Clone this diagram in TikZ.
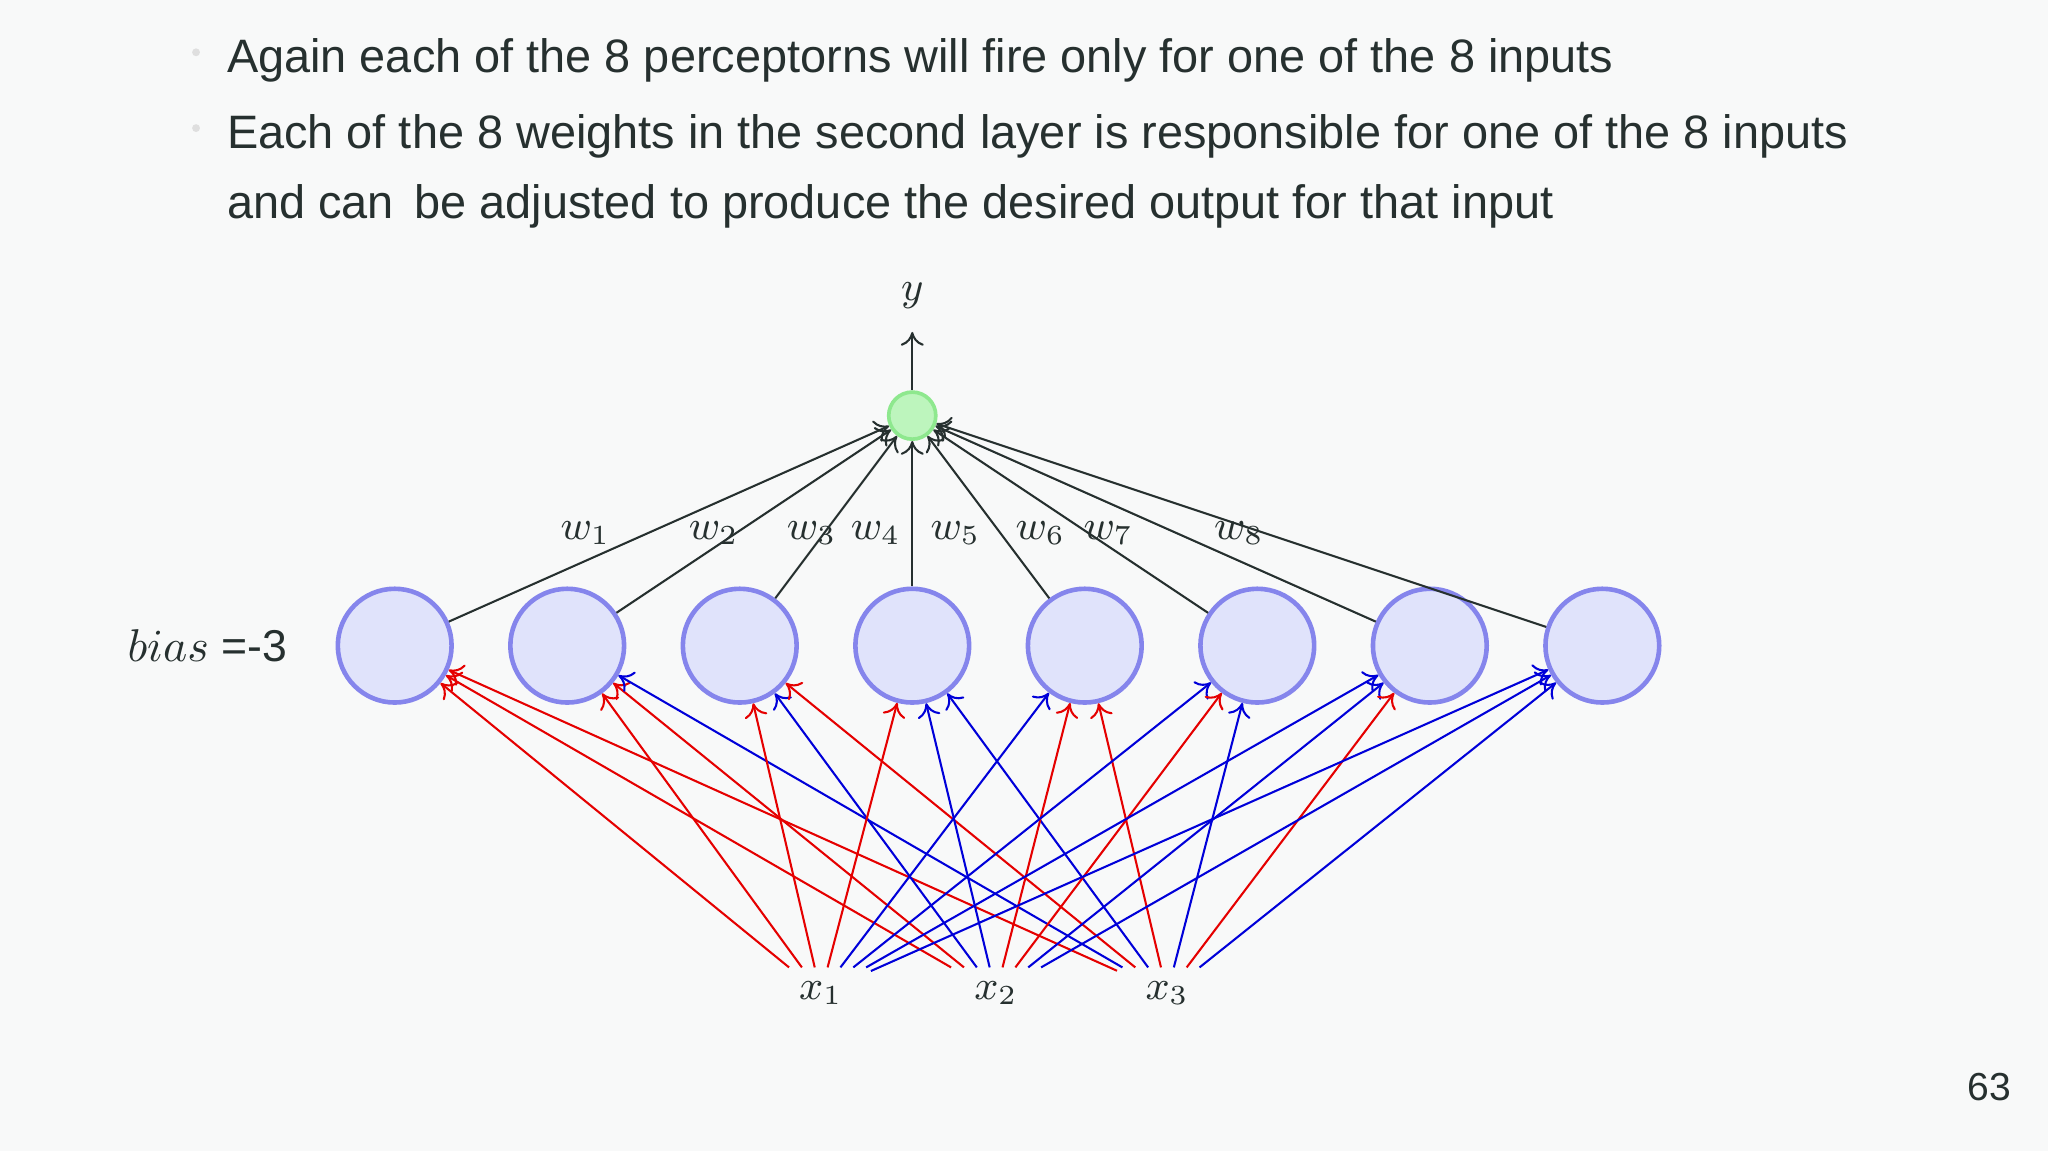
\documentclass[tikz,border=0pt]{standalone}
\usepackage{fontspec}
\setmainfont{Liberation Sans}
\usetikzlibrary{arrows.meta}
\definecolor{bg}{HTML}{F8F9F9}
\definecolor{txt}{HTML}{26302F}
\definecolor{cfill}{HTML}{E0E3FB}
\definecolor{cdraw}{HTML}{8585EC}
\definecolor{ofill}{HTML}{BDF5BD}
\definecolor{odraw}{HTML}{8EE88E}
\begin{document}
\begin{tikzpicture}[x=0.01cm,y=-0.01cm,
  hid/.style={circle,draw=cdraw,fill=cfill,line width=1pt,minimum size=0.87cm,inner sep=0pt},
  outn/.style={circle,draw=odraw,fill=ofill,line width=0.8pt,minimum size=0.36cm,inner sep=0pt},
  lab/.style={font=\fontsize{9}{11}\selectfont,text=txt,inner sep=3pt},
  wlab/.style={font=\fontsize{9}{11}\selectfont,text=txt,inner sep=0pt},
  bul/.style={font=\fontsize{10.2}{12}\selectfont,text=txt,anchor=west,inner sep=0pt},
  conn/.style={-{To[length=3pt,width=5pt]},line width=0.45pt},
  rc/.style={conn,draw=red!90!black},
  bc/.style={conn,draw=blue!85!black},
  wc/.style={conn,draw=txt}]
\fill[bg] (0,0) rectangle (1567,881);
\useasboundingbox (0,0) rectangle (1567,881);
\fill[gray!25] (150,40) circle (3);
\fill[gray!25] (150,98) circle (3);
\node[bul] (t1) at (173,46) {Again each of the 8 perceptorns will fire only for one of the 8 inputs};
\node[bul] (t2) at (173,104) {Each of the 8 weights in the second layer is responsible for one of the 8 inputs};
\node[bul] (t3) at (173,158) {and can\, be adjusted to produce the desired output for that input};
\node[font=\fontsize{8.5}{10}\selectfont,text=txt] (pg) at (1522,832) {63};
\node[outn] (o) at (698,318) {};
\node[lab] (y) at (698,226) {$y$};
\coordinate (ytop) at (698,254);
\draw[wc] (o) -- (ytop);
\foreach \i/\x in {1/302,2/434,3/566,4/698,5/830,6/962,7/1094,8/1226}{
  \node[hid] (h\i) at (\x,494) {};
  \draw[wc] (h\i) -- (o);
}
\foreach \i/\x in {1/448,2/546,3/621,4/670,5/731,6/796,7/848,8/948}
  \node[wlab] (w\i) at (\x,408) {$w_{\i}$};
\node[font=\fontsize{9.7}{12}\selectfont,text=txt,anchor=east] (bias) at (232,494) {$bias$ =-3};
\node[lab,inner xsep=6pt,inner ysep=3pt] (x1) at (628,760) {$x_1$};
\node[lab,inner xsep=6pt,inner ysep=3pt] (x2) at (762,760) {$x_2$};
\node[lab,inner xsep=6pt,inner ysep=3pt] (x3) at (893,760) {$x_3$};
% patterns: x1 x2 x3 (r = red, b = blue)
\foreach \i/\a/\b/\c in {1/rc/rc/rc,2/rc/rc/bc,3/rc/bc/rc,4/rc/bc/bc,5/bc/rc/rc,6/bc/rc/bc,7/bc/bc/rc,8/bc/bc/bc}{
  \draw[\a] (x1) -- (h\i);
  \draw[\b] (x2) -- (h\i);
  \draw[\c] (x3) -- (h\i);
}
\end{tikzpicture}
\end{document}
